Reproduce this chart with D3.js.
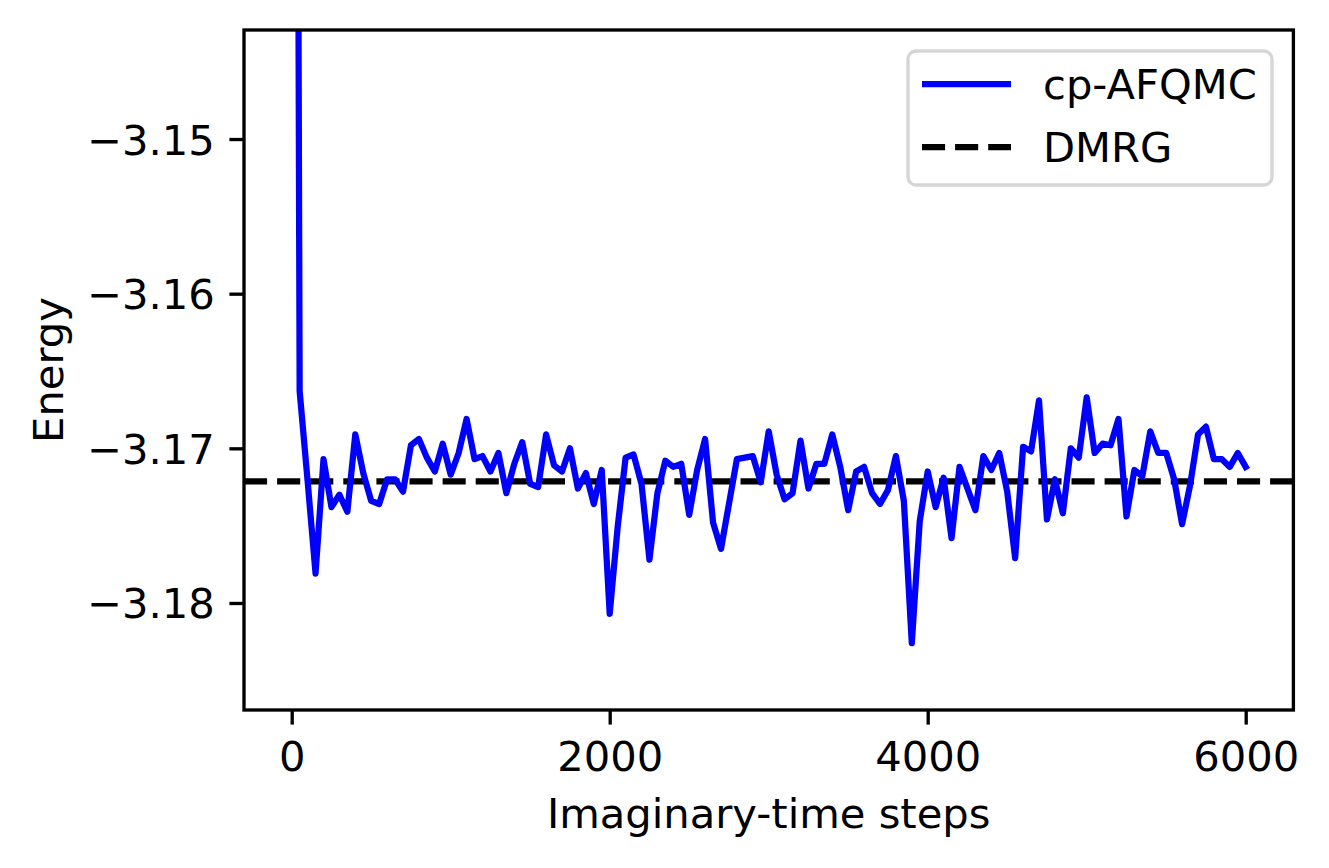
<!DOCTYPE html>
<html>
<head>
<meta charset="utf-8">
<script src="https://cdn.jsdelivr.net/npm/d3@7"></script>
<style>
  html, body { margin: 0; padding: 0; background: #fff; }
  svg { display: block; font-family: "DejaVu Sans", sans-serif; }
</style>
</head>
<body>
<svg id="chart" width="1329" height="868"></svg>
<script>
// ---- data ----
const steps = [0,50,100,150,200,250,300,350,400,450,500,550,600,650,700,750,800,850,900,950,
  1000,1050,1100,1150,1200,1250,1300,1350,1400,1450,1500,1550,1600,1650,1700,1750,1800,1850,1900,1950,
  2000,2050,2100,2150,2200,2250,2300,2350,2400,2450,2500,2550,2600,2650,2700,2750,2800,2850,2900,2950,
  3000,3050,3100,3150,3200,3250,3300,3350,3400,3450,3500,3550,3600,3650,3700,3750,3800,3850,3900,3950,
  4000,4050,4100,4150,4200,4250,4300,4350,4400,4450,4500,4550,4600,4650,4700,4750,4800,4850,4900,4950,
  5000,5050,5100,5150,5200,5250,5300,5350,5400,5450,5500,5550,5600,5650,5700,5750,5800,5850,5900,5950,6000];
const afqmcEnergy = [-3.0000,-3.1663,-3.1721,-3.1781,-3.1707,-3.1738,-3.1730,-3.1741,-3.1691,-3.1716,
  -3.1734,-3.1736,-3.1720,-3.1720,-3.1728,-3.1698,-3.1694,-3.1706,-3.1715,-3.1697,
  -3.1717,-3.1703,-3.1681,-3.1707,-3.1705,-3.1715,-3.1703,-3.1729,-3.1710,-3.1696,
  -3.1723,-3.1725,-3.1691,-3.1711,-3.1715,-3.1700,-3.1726,-3.1716,-3.1736,-3.1714,
  -3.1807,-3.1751,-3.1706,-3.1704,-3.1723,-3.1772,-3.1729,-3.1708,-3.1712,-3.1710,
  -3.1743,-3.1714,-3.1694,-3.1748,-3.1765,-3.1736,-3.1707,-3.1706,-3.1705,-3.1722,
  -3.1689,-3.1717,-3.1733,-3.1729,-3.1695,-3.1726,-3.1710,-3.1710,-3.1691,-3.1712,
  -3.1740,-3.1715,-3.1712,-3.1729,-3.1736,-3.1727,-3.1705,-3.1734,-3.1826,-3.1747,
  -3.1715,-3.1738,-3.1719,-3.1758,-3.1712,-3.1726,-3.1740,-3.1705,-3.1714,-3.1703,
  -3.1728,-3.1771,-3.1699,-3.1702,-3.1669,-3.1746,-3.1720,-3.1742,-3.1700,-3.1706,
  -3.1667,-3.1703,-3.1697,-3.1698,-3.1681,-3.1744,-3.1714,-3.1718,-3.1689,-3.1703,
  -3.1703,-3.1720,-3.1749,-3.1724,-3.1691,-3.1686,-3.1707,-3.1707,-3.1712,-3.1703,-3.1712];
const dmrgEnergy = -3.17213;
const xTicks = [0, 2000, 4000, 6000];
const yTicks = [-3.18, -3.17, -3.16, -3.15];
const xDomain = [-300, 6300];
const yDomain = [-3.18692, -3.14295];
const seriesNames = ["cp-AFQMC", "DMRG"];
const xLabel = "Imaginary-time steps";
const yLabel = "Energy";

// ---- layout ----
const FS = 41.67;
const pL = 244, pR = 1293.4, pT = 30, pB = 710;
const svg = d3.select("#chart");

const x = d3.scaleLinear().domain(xDomain).range([pL, pR]);
const y = d3.scaleLinear().domain(yDomain).range([pB, pT]);

svg.append("defs").append("clipPath").attr("id", "clip")
  .append("rect").attr("x", pL).attr("y", pT)
  .attr("width", pR - pL).attr("height", pB - pT);

const fmt = v => d3.format(".2f")(v).replace("-", "\u2212");

// DMRG dashed line
svg.append("line")
  .attr("clip-path", "url(#clip)")
  .attr("x1", x(xDomain[0])).attr("x2", x(xDomain[1]))
  .attr("y1", y(dmrgEnergy)).attr("y2", y(dmrgEnergy))
  .attr("stroke", "#000").attr("stroke-width", 6.25)
  .attr("stroke-dasharray", "23.1,10");

// AFQMC line
const data = steps.map((s, i) => [s, afqmcEnergy[i]]);
svg.append("path")
  .datum(data)
  .attr("clip-path", "url(#clip)")
  .attr("fill", "none")
  .attr("stroke", "#0000ff")
  .attr("stroke-width", 6.25)
  .attr("stroke-linejoin", "round")
  .attr("stroke-linecap", "square")
  .attr("d", d3.line().x(d => x(d[0])).y(d => y(d[1])));

// axes
const xAxis = d3.axisBottom(x).tickValues(xTicks).tickFormat(d3.format("d"))
  .tickSize(14.6).tickPadding(14.6);
const gx = svg.append("g").attr("transform", `translate(0,${pB})`).call(xAxis);
gx.select(".domain").remove();
gx.selectAll(".tick line").attr("stroke", "#000").attr("stroke-width", 3.33);
gx.selectAll(".tick text").attr("font-size", FS).attr("fill", "#000")
  .attr("font-family", "DejaVu Sans").attr("dy", "0.76em");

const yAxis = d3.axisLeft(y).tickValues(yTicks).tickFormat(fmt)
  .tickSize(14.6).tickPadding(14.6);
const gy = svg.append("g").attr("transform", `translate(${pL},0)`).call(yAxis);
gy.select(".domain").remove();
gy.selectAll(".tick line").attr("stroke", "#000").attr("stroke-width", 3.33);
gy.selectAll(".tick text").attr("font-size", FS).attr("fill", "#000")
  .attr("font-family", "DejaVu Sans").attr("dy", "0.36em");

// frame
svg.append("rect")
  .attr("x", pL).attr("y", pT)
  .attr("width", pR - pL).attr("height", pB - pT)
  .attr("fill", "none").attr("stroke", "#000").attr("stroke-width", 3.33);

// axis labels
svg.append("text")
  .attr("x", (pL + pR) / 2).attr("y", 828)
  .attr("text-anchor", "middle").attr("font-size", FS).attr("fill", "#000")
  .text(xLabel);
svg.append("text")
  .attr("transform", `translate(63,${(pT + pB) / 2}) rotate(-90)`)
  .attr("text-anchor", "middle").attr("font-size", FS).attr("fill", "#000")
  .text(yLabel);

// legend
const lg = svg.append("g");
lg.append("rect")
  .attr("x", 908).attr("y", 51).attr("width", 364).attr("height", 134)
  .attr("rx", 8).attr("ry", 8)
  .attr("fill", "#fff").attr("fill-opacity", 0.8)
  .attr("stroke", "#d6d6d6").attr("stroke-width", 3.33);
const legendRows = [
  { name: seriesNames[0], color: "#0000ff", dash: null, yc: 84 },
  { name: seriesNames[1], color: "#000", dash: "23.1,10", yc: 147 }
];
legendRows.forEach(r => {
  lg.append("line")
    .attr("x1", 922).attr("x2", 1011).attr("y1", r.yc).attr("y2", r.yc)
    .attr("stroke", r.color).attr("stroke-width", 6.25)
    .attr("stroke-dasharray", r.dash);
  lg.append("text")
    .attr("x", 1043).attr("y", r.yc).attr("dy", "0.36em")
    .attr("font-size", FS).attr("fill", "#000")
    .text(r.name);
});
</script>
</body>
</html>
